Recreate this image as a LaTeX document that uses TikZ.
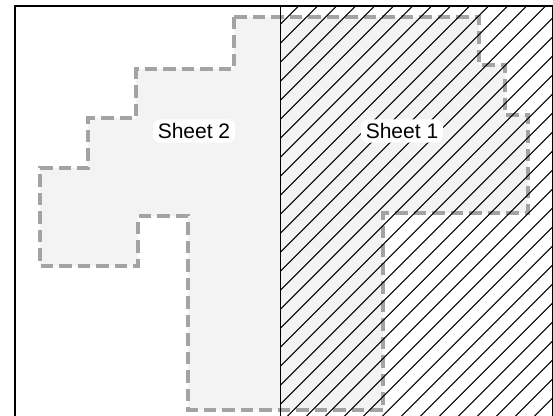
\documentclass[tikz,border=0pt]{standalone}
\usepackage{fontspec}
\setmainfont{Liberation Sans}
\definecolor{zonefill}{HTML}{F3F3F3}
\definecolor{zonedash}{HTML}{A3A3A3}
\tikzset{
  zone/.style={draw=zonedash, fill=zonefill, line width=4.2pt, dash pattern=on 12.5pt off 6pt},
  hatchline/.style={black, line width=1.1pt},
  sheetlabel/.style={fill=white, rounded corners=8pt, inner xsep=5pt, inner ysep=4pt, font=\fontsize{21}{25}\selectfont},
  frame/.style={black, line width=2pt}
}
\begin{document}
\begin{tikzpicture}[x=1pt,y=-1pt]
\useasboundingbox (0,0) rectangle (553,415);
\fill[white] (0,0) rectangle (553,415);
\begin{scope}
\clip (0,0) rectangle (553,415);
% zone outline
\draw[zone] (234,17) -- (479,17) -- (479,65) -- (505,65) -- (505,115) -- (528,115) -- (528,213)
  -- (383,213) -- (383,410) -- (188,410) -- (188,216) -- (138,216) -- (138,266) -- (40,266)
  -- (40,168) -- (88,168) -- (88,118) -- (136,118) -- (136,69) -- (234,69) -- cycle;
% hatching on the right half
\begin{scope}
\clip (280.5,6) rectangle (553,420);
\foreach \c in {0.7,19.7,...,1100} {
  \draw[hatchline] (\c,0) -- ({\c-1000},1000);
}
\end{scope}
% divider
\draw[black, line width=1pt] (280.5,6) -- (280.5,420);
% frame
\draw[frame] (15,430) -- (15,6) -- (552.5,6) -- (552.5,430);
\end{scope}
\node[sheetlabel] (sheet2) at (194,131) {Sheet 2};
\node[sheetlabel] (sheet1) at (402,131) {Sheet 1};
\end{tikzpicture}
\end{document}
